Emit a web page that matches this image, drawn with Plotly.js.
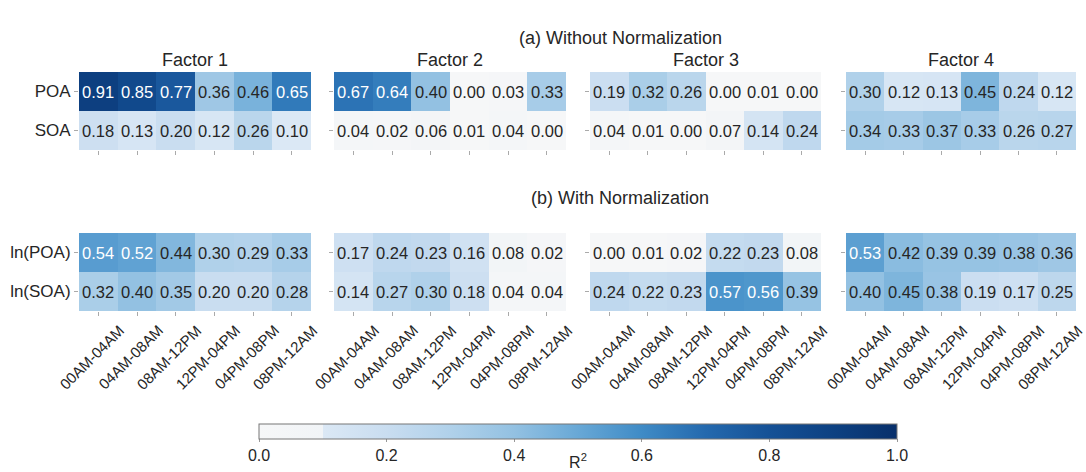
<!DOCTYPE html>
<html>
<head>
<meta charset="utf-8">
<script src="https://cdn.plot.ly/plotly-3.0.1.min.js"></script>
<style>html,body{margin:0;padding:0;background:#fff;}#chart{width:1086px;height:472px;}</style>
</head>
<body>
<div id="chart"></div>
<script>
// ---- data ----
const periods = ["00AM-04AM","04AM-08AM","08AM-12PM","12PM-04PM","04PM-08PM","08PM-12AM"];
const factors = ["Factor 1","Factor 2","Factor 3","Factor 4"];
const rowsA = ["POA","SOA"];
const rowsB = ["ln(POA)","ln(SOA)"];
const panelTitles = ["(a) Without Normalization","(b) With Normalization"];

const f1_POA = [0.91,0.85,0.77,0.36,0.46,0.65];
const f1_SOA = [0.18,0.13,0.20,0.12,0.26,0.10];
const f2_POA = [0.67,0.64,0.40,0.00,0.03,0.33];
const f2_SOA = [0.04,0.02,0.06,0.01,0.04,0.00];
const f3_POA = [0.19,0.32,0.26,0.00,0.01,0.00];
const f3_SOA = [0.04,0.01,0.00,0.07,0.14,0.24];
const f4_POA = [0.30,0.12,0.13,0.45,0.24,0.12];
const f4_SOA = [0.34,0.33,0.37,0.33,0.26,0.27];

const f1_lnPOA = [0.54,0.52,0.44,0.30,0.29,0.33];
const f1_lnSOA = [0.32,0.40,0.35,0.20,0.20,0.28];
const f2_lnPOA = [0.17,0.24,0.23,0.16,0.08,0.02];
const f2_lnSOA = [0.14,0.27,0.30,0.18,0.04,0.04];
const f3_lnPOA = [0.00,0.01,0.02,0.22,0.23,0.08];
const f3_lnSOA = [0.24,0.22,0.23,0.57,0.56,0.39];
const f4_lnPOA = [0.53,0.42,0.39,0.39,0.38,0.36];
const f4_lnSOA = [0.40,0.45,0.38,0.19,0.17,0.25];

const cbTicks = [0,0.2,0.4,0.6,0.8,1.0];

// ---- layout geometry ----
const W = 1086, H = 472;
const colPx = [[79,311],[334,566],[590,821],[846,1076]];
const rowPx = [[72,150],[233,311]];
const font = "Liberation Sans, Arial, sans-serif";
const txt = "#262626";
const fsCell = 16.5, fsTick = 17, fsTitle = 18, fsX = 15, fsCb = 16;

const panels = [
  [[f1_POA,f1_SOA],[f2_POA,f2_SOA],[f3_POA,f3_SOA],[f4_POA,f4_SOA]],
  [[f1_lnPOA,f1_lnSOA],[f2_lnPOA,f2_lnSOA],[f3_lnPOA,f3_lnSOA],[f4_lnPOA,f4_lnSOA]]
];
const rowLabels = [rowsA, rowsB];

const colorscale = [
  [0.0,'#f6f7f8'],[0.1,'#f1f4f7'],[0.1,'#dbe8f5'],[0.2,'#c9ddf0'],[0.3,'#b0d1ea'],
  [0.4,'#93c1e2'],[0.5,'#68a8d6'],[0.6,'#3f8bc6'],[0.7,'#2469ae'],[0.8,'#155196'],
  [0.9,'#0d4182'],[1.0,'#08306b']
];

const data = [];
const layout = {
  width: W, height: H,
  margin: {l:0,r:0,t:0,b:0},
  paper_bgcolor: '#fff', plot_bgcolor: '#fff',
  font: {family: font, size: fsCell, color: txt},
  showlegend: false,
  annotations: [],
  coloraxis: {
    colorscale: colorscale, cmin: 0, cmax: 1,
    colorbar: {
      orientation: 'h', x: 578/W, xanchor: 'center', len: 638/W, lenmode: 'fraction',
      y: 1-424/H, yanchor: 'top', thickness: 15, xpad: 0, ypad: 0,
      outlinewidth: 1, outlinecolor: '#777',
      tickvals: cbTicks, ticktext: cbTicks.map(v => v.toFixed(1)),
      ticks: 'outside', ticklen: 3, tickcolor: '#999',
      tickfont: {family: font, size: fsCb, color: txt},
      title: {text: 'R<sup>2</sup>', side: 'bottom', font: {family: font, size: fsCb, color: txt}}
    }
  }
};

let idx = 0;
for (let r = 0; r < 2; r++) {
  for (let c = 0; c < 4; c++) {
    idx++;
    const xa = 'x' + (idx === 1 ? '' : idx);
    const ya = 'y' + (idx === 1 ? '' : idx);
    const z = panels[r][c];
    data.push({
      type: 'heatmap', x: periods, y: rowLabels[r], z: z,
      xaxis: xa, yaxis: ya, coloraxis: 'coloraxis',
      xgap: 0, ygap: 0, hoverinfo: 'skip'
    });
    const xk = 'xaxis' + (idx === 1 ? '' : idx);
    const yk = 'yaxis' + (idx === 1 ? '' : idx);
    layout[xk] = {
      domain: [colPx[c][0]/W, colPx[c][1]/W], anchor: ya,
      type: 'category', autorange: false, range: [-0.5, periods.length - 0.5],
      showgrid: false, zeroline: false, showline: false,
      ticks: 'outside', ticklen: 4, tickcolor: '#aaa', tickwidth: 1,
      showticklabels: false
    };
    layout[yk] = {
      domain: [1 - rowPx[r][1]/H, 1 - rowPx[r][0]/H], anchor: xa,
      type: 'category', autorange: false, range: [rowLabels[r].length - 0.5, -0.5],
      showgrid: false, zeroline: false, showline: false,
      ticks: 'outside', ticklen: 4, tickcolor: '#aaa', tickwidth: 1,
      showticklabels: c === 0,
      tickfont: {family: font, size: fsTick, color: txt}
    };
    // cell values
    for (let i = 0; i < z.length; i++) {
      for (let j = 0; j < z[i].length; j++) {
        const v = z[i][j];
        layout.annotations.push({
          x: periods[j], y: rowLabels[r][i], xref: xa, yref: ya,
          text: v.toFixed(2), showarrow: false,
          font: {family: font, size: fsCell, color: v > 0.5 ? '#ffffff' : txt}
        });
      }
    }
    if (r === 0) {
      layout.annotations.push({
        x: (colPx[c][0]+colPx[c][1])/2/W, y: 1 - rowPx[0][0]/H, xref: 'paper', yref: 'paper',
        xanchor: 'center', yanchor: 'bottom', text: factors[c], showarrow: false,
        font: {family: font, size: fsTitle, color: txt}
      });
    } else {
      // rotated period labels, centred under each tick
      for (let j = 0; j < periods.length; j++) {
        layout.annotations.push({
          x: periods[j], xref: xa, y: 1 - (rowPx[1][1] + 8)/H, yref: 'paper',
          xanchor: 'center', yanchor: 'top', textangle: -45, xshift: -7,
          text: periods[j], showarrow: false,
          font: {family: font, size: fsX, color: txt}
        });
      }
    }
  }
}
// panel titles
layout.annotations.push({
  x: 620/W, y: 1 - 38/H, xref: 'paper', yref: 'paper', xanchor: 'center', yanchor: 'middle',
  text: panelTitles[0], showarrow: false, font: {family: font, size: fsTitle, color: txt}
});
layout.annotations.push({
  x: 620/W, y: 1 - 198/H, xref: 'paper', yref: 'paper', xanchor: 'center', yanchor: 'middle',
  text: panelTitles[1], showarrow: false, font: {family: font, size: fsTitle, color: txt}
});

Plotly.newPlot('chart', data, layout, {staticPlot: true, displayModeBar: false});
</script>
</body>
</html>
